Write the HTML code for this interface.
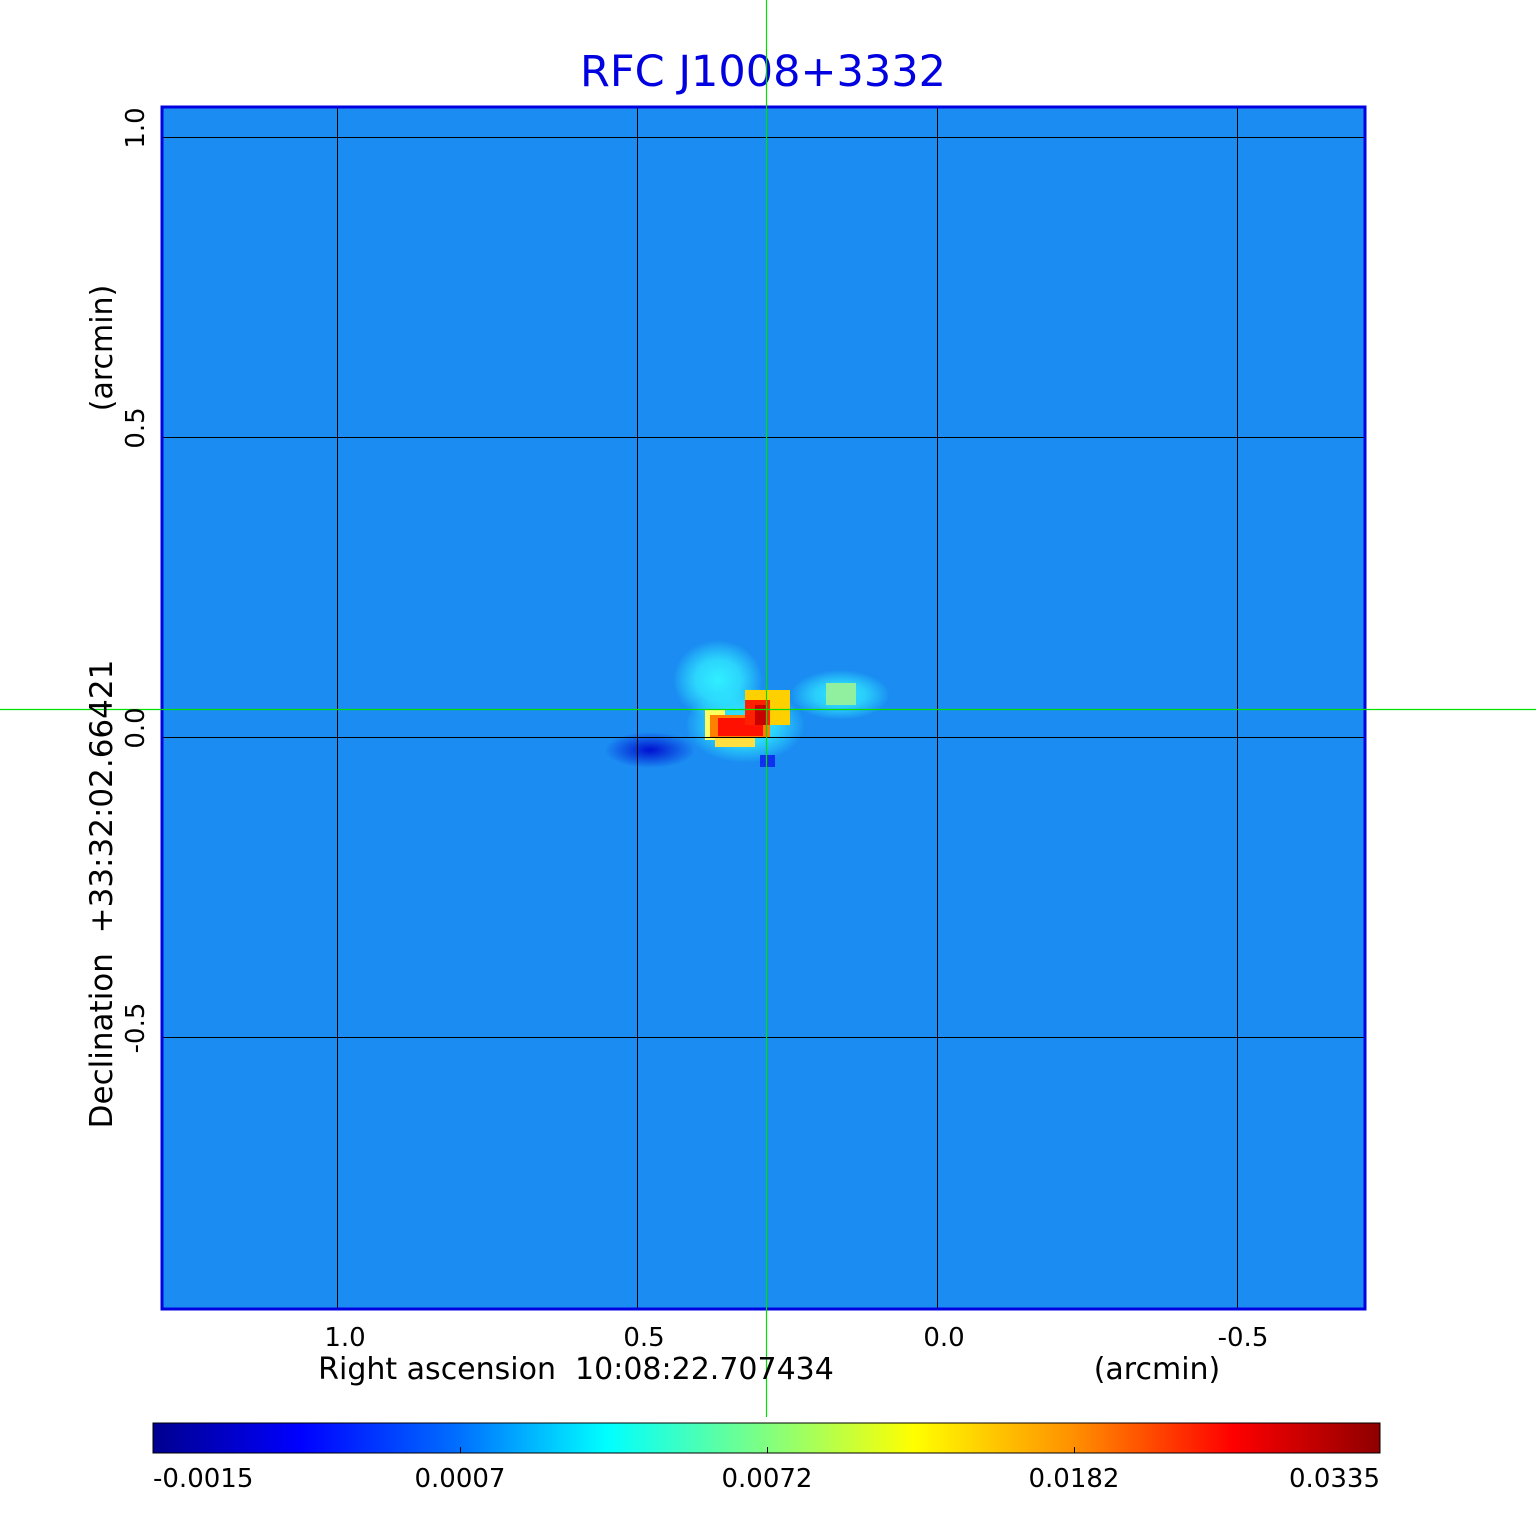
<!DOCTYPE html>
<html><head><style>
body{margin:0;background:#fff;width:1536px;height:1511px;overflow:hidden;font-family:"DejaVu Sans","Liberation Sans",sans-serif;}
text{white-space:pre;}
</style></head><body>
<svg width="1536" height="1511" xmlns="http://www.w3.org/2000/svg" font-family="DejaVu Sans, Liberation Sans, sans-serif" xml:space="preserve">
<defs>
<linearGradient id="jet" x1="0" x2="1" y1="0" y2="0">
<stop offset="0" stop-color="#00008f"/>
<stop offset="0.12" stop-color="#0000ff"/>
<stop offset="0.25" stop-color="#0070ff"/>
<stop offset="0.37" stop-color="#00ffff"/>
<stop offset="0.5" stop-color="#80ff80"/>
<stop offset="0.62" stop-color="#ffff00"/>
<stop offset="0.75" stop-color="#ff9000"/>
<stop offset="0.88" stop-color="#ff0000"/>
<stop offset="1" stop-color="#8f0000"/>
</linearGradient>
<radialGradient id="glow" cx="0.5" cy="0.5" r="0.5">
<stop offset="0" stop-color="#30f0ff" stop-opacity="1"/>
<stop offset="0.5" stop-color="#30e8ff" stop-opacity="0.8"/>
<stop offset="1" stop-color="#30f0ff" stop-opacity="0"/>
</radialGradient>
<radialGradient id="neg" cx="0.5" cy="0.5" r="0.5">
<stop offset="0" stop-color="#0010d0" stop-opacity="1"/>
<stop offset="1" stop-color="#0010d0" stop-opacity="0"/>
</radialGradient>
</defs>
<text x="763" y="86" text-anchor="middle" font-size="43" fill="#0000e0">RFC J1008+3332</text>
<rect x="162" y="107" width="1203" height="1202" fill="#1a8cf2"/>
<!-- source -->
<ellipse cx="718" cy="680" rx="45" ry="40" fill="url(#glow)"/>
<ellipse cx="840" cy="695" rx="50" ry="25" fill="url(#glow)" opacity="0.9"/>
<ellipse cx="650" cy="750" rx="45" ry="18" fill="url(#neg)"/>
<ellipse cx="745" cy="725" rx="60" ry="38" fill="url(#glow)"/>
<rect x="826" y="683" width="30" height="22" fill="#90f0a0"/>
<rect x="705" y="710" width="20" height="30" fill="#ffff60"/>
<rect x="715" y="735" width="40" height="12" fill="#ffe040"/>
<rect x="745" y="690" width="45" height="35" fill="#ffd000"/>
<rect x="710" y="715" width="60" height="22" fill="#ff8000"/>
<rect x="718" y="718" width="45" height="18" fill="#ff1000"/>
<rect x="745" y="700" width="25" height="25" fill="#ff2000"/>
<rect x="755" y="705" width="12" height="20" fill="#c80000"/>
<rect x="760" y="755" width="15" height="12" fill="#1030f0"/>
<!-- grid -->
<g stroke="#000" stroke-width="1">
<line x1="337.5" y1="107" x2="337.5" y2="1309"/><line x1="637.5" y1="107" x2="637.5" y2="1309"/>
<line x1="937.5" y1="107" x2="937.5" y2="1309"/><line x1="1237.5" y1="107" x2="1237.5" y2="1309"/>
<line x1="162" y1="137.5" x2="1365" y2="137.5"/><line x1="162" y1="437.5" x2="1365" y2="437.5"/>
<line x1="162" y1="737.5" x2="1365" y2="737.5"/><line x1="162" y1="1037.5" x2="1365" y2="1037.5"/>
</g>
<rect x="162" y="107" width="1203" height="1202" fill="none" stroke="#0000e0" stroke-width="3"/>
<g stroke="#00e000" stroke-width="1.2">
<line x1="766.5" y1="0" x2="766.5" y2="1417"/>
<line x1="0" y1="709.5" x2="1536" y2="709.5"/>
</g>
<g font-size="26" fill="#000" text-anchor="middle">
<text x="345" y="1346">1.0</text><text x="644" y="1346">0.5</text><text x="944" y="1346">0.0</text><text x="1243" y="1346">-0.5</text>
<text x="576" y="1379" font-size="30">Right ascension  10:08:22.707434</text>
<text x="1157" y="1379" font-size="30">(arcmin)</text>
<text transform="translate(144,128) rotate(-90)">1.0</text>
<text transform="translate(144,428) rotate(-90)">0.5</text>
<text transform="translate(144,728) rotate(-90)">0.0</text>
<text transform="translate(144,1028) rotate(-90)">-0.5</text>
<text transform="translate(112,894) rotate(-90)" font-size="31">Declination  +33:32:02.66421</text>
<text transform="translate(112,348) rotate(-90)" font-size="30">(arcmin)</text>
</g>
<rect x="153" y="1423" width="1227" height="30" fill="url(#jet)" stroke="#000" stroke-width="1"/>
<g stroke="#000"><line x1="460.5" y1="1447" x2="460.5" y2="1453"/><line x1="767.5" y1="1447" x2="767.5" y2="1453"/><line x1="1074.5" y1="1447" x2="1074.5" y2="1453"/></g>
<g font-size="26" fill="#000">
<text x="153" y="1487">-0.0015</text>
<text x="460" y="1487" text-anchor="middle">0.0007</text>
<text x="767" y="1487" text-anchor="middle">0.0072</text>
<text x="1074" y="1487" text-anchor="middle">0.0182</text>
<text x="1380" y="1487" text-anchor="end">0.0335</text>
</g>
</svg>
</body></html>
